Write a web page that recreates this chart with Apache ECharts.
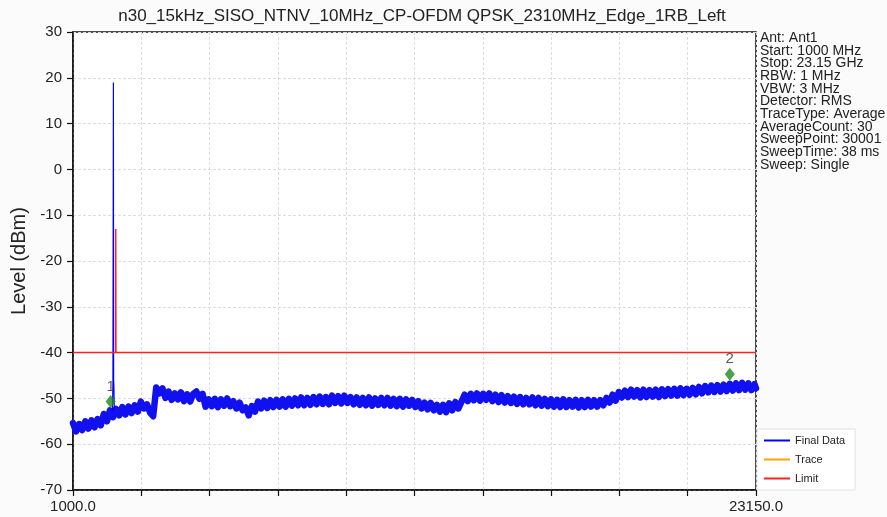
<!DOCTYPE html>
<html>
<head>
<meta charset="utf-8">
<script src="https://cdn.jsdelivr.net/npm/echarts@6/dist/echarts.min.js"></script>
<style>
  html, body { margin: 0; padding: 0; background: #fbfbfb; }
  #chart { width: 887px; height: 517px; }
</style>
</head>
<body>
<div id="chart"></div>
<script>
// Spectrum sweep: 1000 MHz .. 23150 MHz
const chartTitle = 'n30_15kHz_SISO_NTNV_10MHz_CP-OFDM QPSK_2310MHz_Edge_1RB_Left';
const freqStart = 1000;
const freqStop = 23150;
const freqTickStep = 2215;
const levelTicks = { min: -70, max: 30, step: 10 };

// Final Data noise floor, one reading per 100 MHz starting at 1000 MHz (dBm)
const traceStepMHz = 100;
const traceLevels = [
  -55.4, -57.2, -55.6, -56.9, -55.0, -56.6, -54.8, -56.3, -54.5, -55.9,
  -53.4, -55.0, -52.6, -54.1, -52.3, -53.7, -51.9, -53.5, -51.8, -53.2,
  -51.5, -52.9, -50.7, -52.2, -51.3, -53.1, -53.9, -47.6, -48.9, -47.8,
  -49.9, -48.5, -50.3, -48.9, -50.2, -48.7, -50.6, -49.1, -50.7, -49.0,
  -48.5, -50.1, -49.0, -51.8, -50.2, -51.7, -50.1, -51.9, -50.2, -51.6,
  -50.0, -51.7, -50.6, -52.2, -50.9, -52.6, -52.0, -53.7, -51.7, -52.9,
  -50.7, -52.2, -50.5, -52.1, -50.4, -51.9, -50.3, -51.8, -50.2, -51.8,
  -50.1, -51.6, -50.0, -51.5, -49.8, -51.5, -49.9, -51.4, -49.7, -51.3,
  -49.6, -51.2, -49.7, -51.3, -49.4, -51.0, -49.5, -51.1, -49.4, -51.0,
  -49.7, -51.3, -49.8, -51.4, -49.9, -51.5, -49.8, -51.6, -50.0, -51.4,
  -49.9, -51.5, -49.9, -51.6, -50.1, -51.7, -50.1, -51.8, -50.2, -51.6,
  -50.3, -51.9, -50.6, -52.2, -50.9, -52.4, -51.0, -52.6, -51.4, -52.9,
  -51.4, -53.0, -51.1, -52.6, -50.8, -52.2, -50.7, -49.2, -50.6, -49.0,
  -50.4, -48.9, -50.5, -49.0, -50.3, -48.9, -50.6, -49.2, -50.8, -49.3,
  -50.9, -49.5, -51.0, -49.6, -51.2, -49.7, -51.3, -49.9, -51.3, -49.8,
  -51.5, -49.9, -51.6, -50.1, -51.7, -50.2, -51.8, -50.3, -51.9, -50.2,
  -51.9, -50.4, -51.8, -50.3, -52.0, -50.4, -51.9, -50.3, -51.8, -50.4,
  -51.8, -50.4, -51.5, -49.9, -50.9, -49.2, -50.5, -48.6, -49.8, -48.3,
  -49.7, -48.1, -49.6, -48.2, -49.8, -48.1, -49.7, -48.2, -49.6, -48.1,
  -49.7, -48.0, -49.5, -48.0, -49.4, -47.9, -49.4, -47.8, -49.3, -47.9,
  -49.2, -47.7, -49.1, -47.5, -48.9, -47.3, -48.7, -47.2, -48.6, -47.1,
  -48.5, -47.0, -48.4, -46.8, -48.3, -46.7, -48.2, -46.6, -48.1, -46.7,
  -48.2, -46.9
];
const traceEndLevel = -47.8;

// Carrier at the band edge (MHz, dBm)
const carrierFreq  = [2280, 2295, 2300, 2310, 2318, 2325, 2340];
const carrierLevel = [-52.8, -46.5, -46.2, 19.0, -46.0, -47.0, -52.5];

// Limit line (MHz, dBm)
const limitFreq  = [1000, 2385, 2385, 2392, 2392, 23150];
const limitLevel = [-40, -40, -13, -13, -40, -40];

// Markers
const markerNames = ['1', '2'];
const markerFreq  = [2220, 22300];
const markerLevel = [-50.7, -44.7];

const infoLines = [
  'Ant: Ant1',
  'Start: 1000 MHz',
  'Stop: 23.15 GHz',
  'RBW: 1 MHz',
  'VBW: 3 MHz',
  'Detector: RMS',
  'TraceType: Average',
  'AverageCount: 30',
  'SweepPoint: 30001',
  'SweepTime: 38 ms',
  'Sweep: Single'
];

const noiseData = traceLevels.map((v, i) => [freqStart + i * traceStepMHz, v]);
noiseData.push([freqStop, traceEndLevel]);
const carrierData = carrierFreq.map((f, i) => [f, carrierLevel[i]]);
const limitData = limitFreq.map((f, i) => [f, limitLevel[i]]);
const markerData = markerFreq.map((f, i) => ({ value: [f, markerLevel[i]], name: markerNames[i] }));

const FONT = '"Liberation Sans", Arial, sans-serif';
const gridLine = { show: true, lineStyle: { color: '#dcdce2', width: 1, type: [3, 2] } };

const chart = echarts.init(document.getElementById('chart'), null, { renderer: 'canvas' });
chart.setOption({
  backgroundColor: '#fbfbfb',
  animation: false,
  title: {
    text: chartTitle,
    left: 417, top: 3, textAlign: 'center',
    textStyle: { fontFamily: FONT, fontSize: 17, fontWeight: 'normal', color: '#222' }
  },
  grid: {
    left: 73, right: 131, top: 32, bottom: 27,
    show: true, borderColor: '#111', borderWidth: 1.5, backgroundColor: '#ffffff'
  },
  legend: {
    orient: 'vertical',
    left: 757, top: 429,
    data: ['Final Data', 'Trace', 'Limit'],
    icon: 'rect', itemWidth: 26, itemHeight: 2, itemGap: 8,
    backgroundColor: '#ffffff', borderColor: '#e2e2e2', borderWidth: 1,
    padding: [6, 10, 6, 7],
    textStyle: { fontFamily: FONT, fontSize: 11, color: '#222' }
  },
  xAxis: {
    type: 'value',
    min: freqStart, max: freqStop, interval: freqTickStep,
    axisLine: { show: true, onZero: false, lineStyle: { color: '#111', width: 1.5 } },
    axisTick: { show: true, inside: false, length: 6, lineStyle: { color: '#111', width: 1.2 } },
    axisLabel: {
      fontFamily: FONT, fontSize: 15, color: '#222', margin: 9,
      showMinLabel: true, showMaxLabel: true,
      formatter: v => (Math.abs(v - freqStart) < 1 || Math.abs(v - freqStop) < 1) ? v.toFixed(1) : ''
    },
    splitLine: gridLine
  },
  yAxis: {
    type: 'value',
    min: levelTicks.min, max: levelTicks.max, interval: levelTicks.step,
    name: 'Level (dBm)', nameLocation: 'middle', nameGap: 42, nameRotate: 90,
    nameTextStyle: { fontFamily: FONT, fontSize: 20, color: '#222' },
    axisLine: { show: true, onZero: false, lineStyle: { color: '#111', width: 1.5 } },
    axisTick: { show: true, inside: false, length: 6, lineStyle: { color: '#111', width: 1.2 } },
    axisLabel: { fontFamily: FONT, fontSize: 15, color: '#222', margin: 11 },
    splitLine: gridLine
  },
  series: [
    {
      name: 'Final Data', type: 'line', data: noiseData,
      showSymbol: false, symbol: 'none', clip: true,
      lineStyle: { color: '#1010f0', width: 6.5, join: 'round', cap: 'round' },
      itemStyle: { color: '#0000ff' }, z: 3
    },
    {
      name: 'Final Data', type: 'line', data: carrierData,
      showSymbol: false, symbol: 'none',
      lineStyle: { color: '#0000ff', width: 1.2 },
      itemStyle: { color: '#0000ff' }, z: 4
    },
    {
      name: 'Trace', type: 'line', data: [],
      lineStyle: { color: '#ffa500', width: 1.5 }, itemStyle: { color: '#ffa500' }
    },
    {
      name: 'Limit', type: 'line', data: limitData,
      showSymbol: false, symbol: 'none',
      lineStyle: { color: '#ff2020', width: 1.5 }, itemStyle: { color: '#ff2020' }, z: 5
    },
    {
      name: 'Markers', type: 'scatter', data: markerData,
      symbol: 'diamond', symbolSize: [10, 13],
      itemStyle: { color: '#1e8a1e' },
      label: {
        show: true, position: 'top', distance: 1,
        formatter: p => p.name,
        fontFamily: FONT, fontSize: 15, color: '#333'
      },
      z: 6
    }
  ],
  graphic: [
    {
      type: 'text', left: 760, top: 31,
      style: {
        text: infoLines.join('\n'),
        fontFamily: FONT, fontSize: 14, lineHeight: 12.7, fill: '#222'
      }
    }
  ]
});
</script>
</body>
</html>
